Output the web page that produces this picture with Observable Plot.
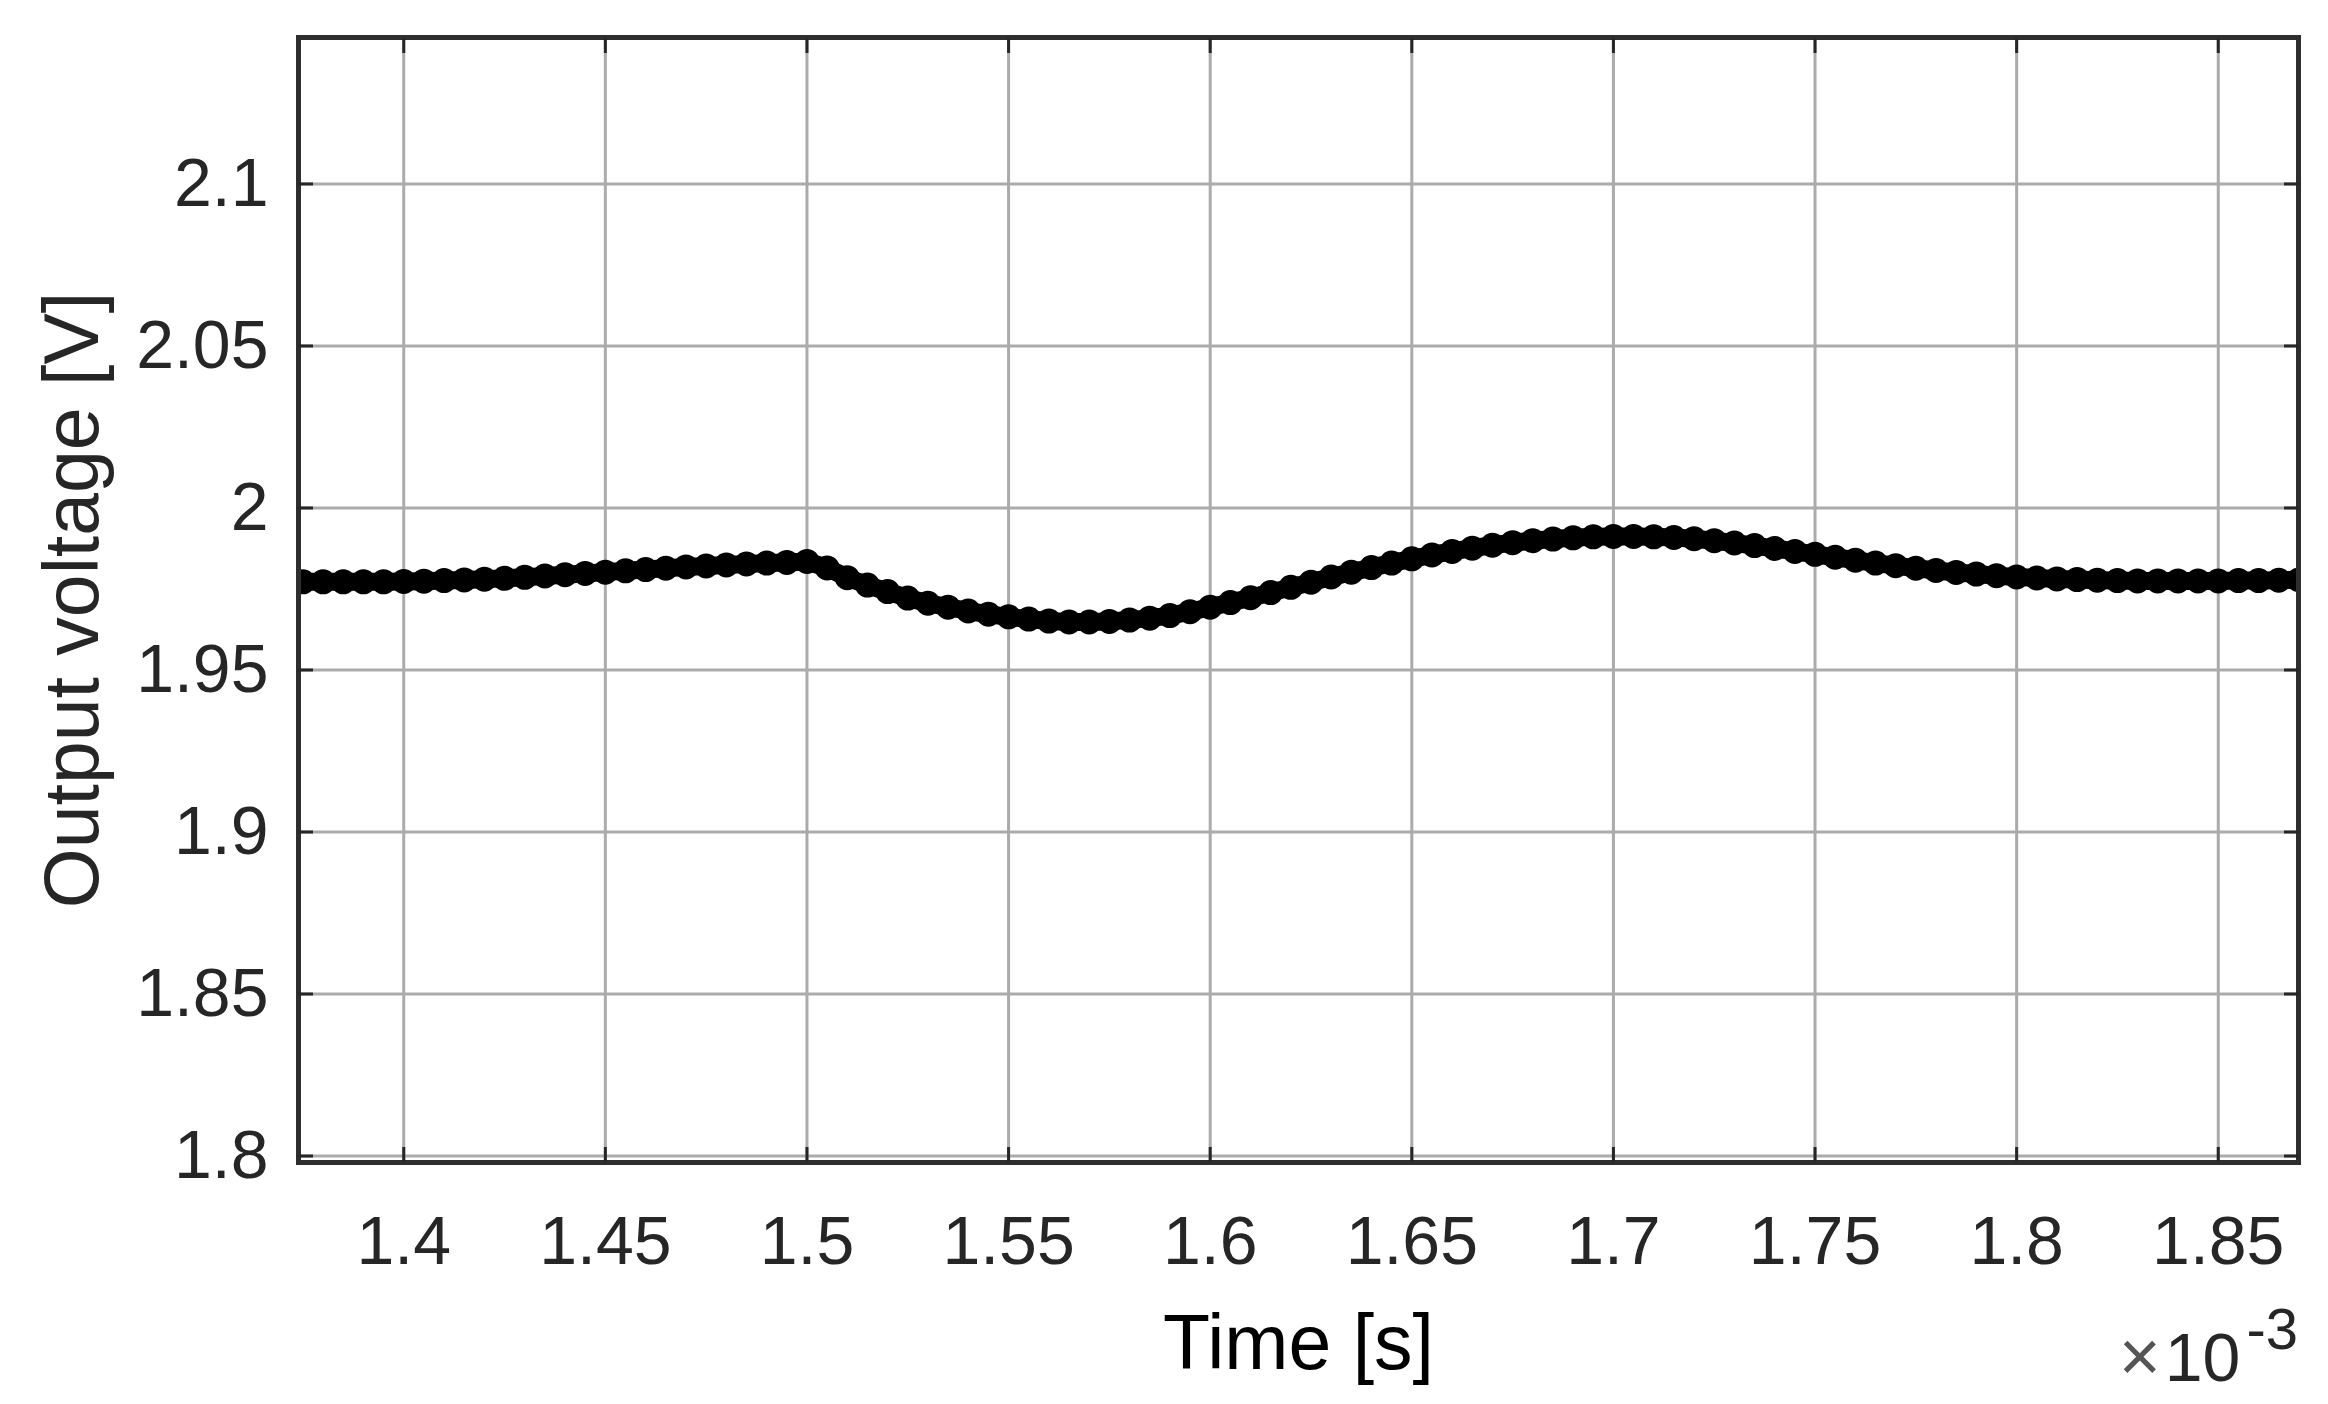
<!DOCTYPE html>
<html>
<head>
<meta charset="utf-8">
<script src="https://cdn.jsdelivr.net/npm/d3@7"></script>
<script src="https://cdn.jsdelivr.net/npm/@observablehq/plot@0.6"></script>
<style>
  html, body { margin: 0; padding: 0; background: #fff; overflow: hidden; }
  svg { display: block; }
</style>
</head>
<body>
<div id="chart"></div>
<script>
// Time in ms (axis shows ×10^-3 s)
const timeMs = [
  1.375, 1.380, 1.385, 1.390, 1.395, 1.400, 1.405, 1.410, 1.415, 1.420,
  1.425, 1.430, 1.435, 1.440, 1.445, 1.450, 1.455, 1.460, 1.465, 1.470,
  1.475, 1.480, 1.485, 1.490, 1.495, 1.500, 1.505, 1.510, 1.515, 1.520,
  1.525, 1.530, 1.535, 1.540, 1.545, 1.550, 1.555, 1.560, 1.565, 1.570,
  1.575, 1.580, 1.585, 1.590, 1.595, 1.600, 1.605, 1.610, 1.615, 1.620,
  1.625, 1.630, 1.635, 1.640, 1.645, 1.650, 1.655, 1.660, 1.665, 1.670,
  1.675, 1.680, 1.685, 1.690, 1.695, 1.700, 1.705, 1.710, 1.715, 1.720,
  1.725, 1.730, 1.735, 1.740, 1.745, 1.750, 1.755, 1.760, 1.765, 1.770,
  1.775, 1.780, 1.785, 1.790, 1.795, 1.800, 1.805, 1.810, 1.815, 1.820,
  1.825, 1.830, 1.835, 1.840, 1.845, 1.850, 1.855, 1.860, 1.865, 1.870
];
// Output voltage in V
const outputVoltage = [
  1.9772, 1.9772, 1.9772, 1.9772, 1.9772, 1.9773, 1.9774, 1.9776, 1.9778, 1.9780,
  1.9783, 1.9786, 1.9790, 1.9794, 1.9798, 1.9802, 1.9806, 1.9810, 1.9814, 1.9818,
  1.9821, 1.9824, 1.9827, 1.9830, 1.9832, 1.9835, 1.9815, 1.9785, 1.9762, 1.9742,
  1.9722, 1.9706, 1.9694, 1.9682, 1.9672, 1.9664, 1.9657, 1.9651, 1.9648, 1.9648,
  1.9650, 1.9654, 1.9660, 1.9668, 1.9680, 1.9694, 1.9708, 1.9723, 1.9739, 1.9755,
  1.9771, 1.9787, 1.9802, 1.9816, 1.9830, 1.9843, 1.9855, 1.9866, 1.9876, 1.9885,
  1.9893, 1.9899, 1.9904, 1.9908, 1.9911, 1.9912, 1.9912, 1.9911, 1.9909, 1.9905,
  1.9899, 1.9892, 1.9884, 1.9875, 1.9866, 1.9857, 1.9848, 1.9839, 1.9830, 1.9822,
  1.9814, 1.9807, 1.9801, 1.9796, 1.9791, 1.9787, 1.9784, 1.9781, 1.9779, 1.9777,
  1.9776, 1.9775, 1.9775, 1.9775, 1.9775, 1.9775, 1.9776, 1.9776, 1.9777, 1.9778
];
const xTicks = [1.4, 1.45, 1.5, 1.55, 1.6, 1.65, 1.7, 1.75, 1.8, 1.85];
const yTicks = [1.8, 1.85, 1.9, 1.95, 2, 2.05, 2.1];
const xLabel = "Time [s]";
const yLabel = "Output voltage [V]";
const expTimes = "×";
const expBase = "10";
const expPower = "-3";

const data = timeMs.map((t, i) => ({t, v: outputVoltage[i]}));
const font = "'Liberation Sans', Arial, Helvetica, sans-serif";
const ink = "#262626";
const gridColor = "#ababab";

const chart = Plot.plot({
  width: 2328,
  height: 1404,
  marginLeft: 298,
  marginRight: 30,
  marginTop: 37,
  marginBottom: 242,
  style: {fontFamily: font, fontSize: "68px", color: ink, background: "#ffffff"},
  x: {domain: [1.3739, 1.8699]},
  y: {domain: [1.798, 2.1452]},
  marks: [
    Plot.gridX(xTicks, {stroke: gridColor, strokeOpacity: 1, strokeWidth: 3}),
    Plot.gridY(yTicks, {stroke: gridColor, strokeOpacity: 1, strokeWidth: 3}),
    Plot.line(data, {x: "t", y: "v", stroke: "#000", strokeWidth: 18, clip: true}),
    Plot.dot(data, {x: "t", y: "v", r: 11.5, fill: "#000", stroke: "#000", strokeWidth: 2, clip: true}),
    Plot.frame({stroke: "#2e2e2e", strokeWidth: 5}),
    Plot.axisX(xTicks, {anchor: "bottom", tickSize: -15, tickPadding: 68, stroke: ink, strokeWidth: 3, fill: ink, fontSize: 68, tickFormat: d => String(d), label: null}),
    Plot.axisX(xTicks, {anchor: "top", tickSize: -15, stroke: ink, strokeWidth: 3, tickFormat: () => "", label: null}),
    Plot.axisY(yTicks, {anchor: "left", tickSize: -15, tickPadding: 45, stroke: ink, strokeWidth: 3, fill: ink, fontSize: 68, tickFormat: d => String(d), label: null}),
    Plot.axisY(yTicks, {anchor: "right", tickSize: -15, stroke: ink, strokeWidth: 3, tickFormat: () => "", label: null}),
    Plot.text([xLabel], {frameAnchor: "bottom", lineAnchor: "bottom", dy: 206, fontSize: 77, fill: "#000"}),
    Plot.text([yLabel], {frameAnchor: "left", textAnchor: "middle", lineAnchor: "bottom", rotate: -90, dx: -201, fontSize: 77, fill: ink})
  ]
});

document.getElementById("chart").appendChild(chart);

// MATLAB-style exponent note at the bottom right of the x axis
const svg = d3.select(chart);
const t = svg.append("text")
  .attr("x", 2298)
  .attr("y", 1381)
  .attr("text-anchor", "end")
  .attr("font-family", font)
  .attr("fill", ink);
t.append("tspan").attr("font-size", 72).attr("fill", "#555").text(expTimes);
t.append("tspan").attr("font-size", 68).attr("dx", 4).text(expBase);
t.append("tspan").attr("font-size", 58).attr("dy", -32).attr("dx", 6).text(expPower);
</script>
</body>
</html>
